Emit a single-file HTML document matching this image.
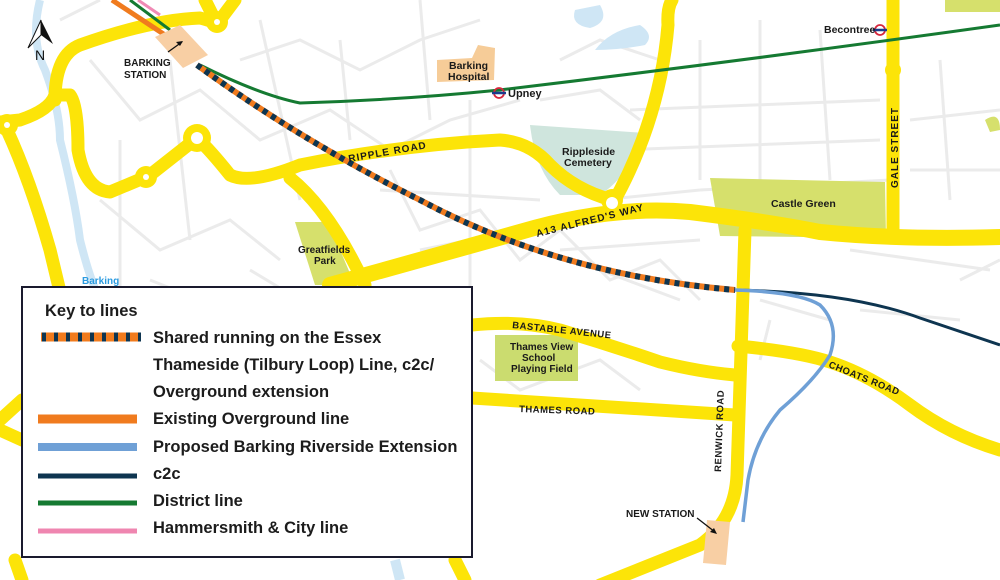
<!DOCTYPE html>
<html><head><meta charset="utf-8"><style>
html,body{margin:0;padding:0;background:#fff}
svg{display:block}
.t{font-family:"Liberation Sans",sans-serif;font-weight:bold;fill:#1a1a1a}
.k{font-family:"Liberation Sans",sans-serif;font-size:16.5px;fill:#1c1c1c;font-weight:bold}
</style></head><body>
<svg width="1000" height="580" viewBox="0 0 1000 580" xmlns="http://www.w3.org/2000/svg">
<rect width="1000" height="580" fill="#fff"/>
<g stroke="#ebebeb" stroke-width="3" fill="none">
<path d="M90 60 L140 120 L200 90 L260 140 L330 110 L390 150 L450 120 L520 100"/>
<path d="M100 200 L160 250 L230 220 L280 260 M240 60 L300 40 L360 70 L420 40 L480 20"/>
<path d="M120 140 L120 300 M170 60 L190 240 M260 20 L300 200 M340 40 L350 140 M420 0 L430 120 M470 100 L470 300"/>
<path d="M390 170 L420 230 L480 210 L520 260 L560 230 L610 280 L660 260 L700 300"/>
<path d="M560 60 L600 40 L660 60 M700 40 L700 180 M760 20 L760 200 M820 30 L830 180 M630 110 L880 100 M620 150 L880 140 M700 190 L890 180"/>
<path d="M940 60 L950 200 M910 120 L1000 110 M910 170 L1000 170 M960 280 L1000 260 M850 250 L990 270"/>
<path d="M380 190 L540 200 M420 250 L520 230 M560 250 L700 240 M600 270 L680 300 M760 300 L830 320 M770 320 L760 360"/>
<path d="M480 360 L520 390 L600 360 L640 390 M860 310 L960 320 M600 200 L700 190"/>
<path d="M250 270 L300 300 M60 20 L100 0 M150 280 L200 300"/>
<path d="M540 100 L600 90 L640 120"/>
</g>
<path d="M40 0 Q30 40 45 70 Q60 110 60 140 Q75 200 80 240 Q90 280 100 300" stroke="#cfe6f5" stroke-width="8" fill="none"/>
<path d="M395 560 L400 580" stroke="#cfe6f5" stroke-width="10"/>
<path d="M575 10 Q570 25 590 28 Q610 22 600 5 Z" fill="#cfe6f5"/>
<path d="M595 50 Q610 30 640 25 Q655 35 645 45 Q620 50 595 50Z" fill="#cfe6f5"/>
<path d="M530 125 L645 133 Q630 175 600 195 L560 195 Q535 170 530 125Z" fill="#cfe5dd"/>
<path d="M710 178 L885 182 L886 238 L720 236Z" fill="#d6e06c"/>
<path d="M295 222 L328 222 L355 285 L315 285Z" fill="#d6e06c"/>
<rect x="495" y="335" width="83" height="46" fill="#cbdc6f"/>
<path d="M945 0 L1000 0 L1000 12 L945 12Z" fill="#d6e06c"/>
<path d="M985 120 Q1000 110 1000 130 L990 132Z" fill="#d6e06c"/>
<path d="M437 60 L472 58 L478 45 L495 48 L494 80 L437 82Z" fill="#f6cc98"/>
<g stroke="#fce408" stroke-width="13" fill="none" stroke-linecap="round" stroke-linejoin="round">
<path d="M330 285 Q420 260 520 232 Q610 205 690 212 Q770 222 820 232 Q900 240 1000 237" stroke-width="16"/>
<path d="M150 175 L197 138 Q210 150 230 175 Q250 185 300 165 Q400 145 500 140 Q530 142 550 165 Q575 190 612 200"/>
<path d="M290 178 Q330 210 365 285"/>
<path d="M672 0 Q667 8 668 25 Q660 120 612 205"/>
<path d="M893 0 L893 238"/>
<path d="M745 230 L737 475 Q735 520 700 545 Q650 565 600 585"/>
<path d="M472 325 Q520 320 560 330 Q610 345 660 362 Q700 372 735 375"/>
<path d="M738 346 Q800 352 830 362 Q870 375 910 405 Q950 435 1000 450"/>
<path d="M472 398 L735 415"/>
<path d="M55 100 Q55 55 80 45 Q150 20 200 18 Q215 22 217 24 L235 0"/>
<path d="M217 24 L205 0"/>
<path d="M55 95 Q50 110 20 120 L0 122"/>
<path d="M55 95 L70 95 Q78 105 78 150 Q85 190 110 192 L146 177"/>
<path d="M7 130 Q30 180 50 250 L62 300"/>
<path d="M0 420 L22 400 M0 430 L22 440"/>
<path d="M15 560 L22 580 M455 560 L465 580"/>
</g>
<g fill="#fce408">
<circle cx="197" cy="138" r="14"/><circle cx="146" cy="177" r="11"/><circle cx="217" cy="22" r="11"/><circle cx="7" cy="125" r="11"/><circle cx="612" cy="200" r="11"/><circle cx="893" cy="70" r="8"/>
</g>
<g fill="#fff"><circle cx="197" cy="138" r="6"/><circle cx="146" cy="177" r="3"/><circle cx="217" cy="22" r="3"/><circle cx="7" cy="125" r="3"/><circle cx="612" cy="203" r="6"/></g>
<path d="M112 0 L165 35" stroke="#f07b1e" stroke-width="5"/>
<path d="M130 0 L170 30" stroke="#157a32" stroke-width="3"/>
<path d="M138 0 L160 15" stroke="#f08ab5" stroke-width="3"/>
<path d="M200 65 Q260 95 300 103 Q400 100 500 90 Q750 60 1000 25" stroke="#157a32" stroke-width="3" fill="none"/>
<path d="M735 290 Q850 292 920 318 L1000 345" stroke="#0e3550" stroke-width="3" fill="none"/>
<path d="M735 290 Q800 292 820 305 Q840 325 830 355 Q815 380 780 410 Q755 440 748 480 L743 522" stroke="#6fa0d6" stroke-width="3.5" fill="none"/>
<path d="M197 65 Q300 140 420 200 Q560 275 735 290" stroke="#f07b1e" stroke-width="6" fill="none"/>
<path d="M197 65 Q300 140 420 200 Q560 275 735 290" stroke="#0e3550" stroke-width="6" fill="none" stroke-dasharray="5 5"/>
<path d="M155 37 L180 25 L208 55 L183 68Z" fill="#f8cfa4"/>
<path d="M707 520 L730 522 L726 565 L703 563Z" fill="#f8cfa4"/>
<path d="M168 52 L182 42" stroke="#111" stroke-width="1.3"/><path d="M183 41 L176 42 L180 46Z" fill="#111"/>
<path d="M697 518 L715 532" stroke="#111" stroke-width="1.3"/><path d="M717 534 L710 532 L714 528Z" fill="#111"/>
<path d="M41 20 L28 48 L41 35Z" fill="#fff" stroke="#111" stroke-width="1"/><path d="M41 20 L53 44 L41 35Z" fill="#111"/>
<text x="35" y="60" font-family="Liberation Sans" font-size="14" fill="#111">N</text>
<g fill="none" stroke="#d7263d" stroke-width="1.8"><circle cx="499" cy="93" r="5"/><circle cx="880" cy="30" r="5"/></g>
<path d="M492 93 L506 93 M873 30 L887 30" stroke="#1b3c8c" stroke-width="2.5"/>
<text class="t" font-size="10" x="124" y="66">BARKING</text>
<text class="t" font-size="10" x="124" y="78">STATION</text>
<text class="t" font-size="10" x="626" y="517">NEW STATION</text>
<text class="t" font-size="10.5" x="449" y="69">Barking</text>
<text class="t" font-size="10.5" x="448" y="80">Hospital</text>
<text class="t" font-size="11" x="508" y="97">Upney</text>
<text class="t" font-size="10.5" x="824" y="33">Becontree</text>
<text class="t" font-size="10.5" x="562" y="155">Rippleside</text>
<text class="t" font-size="10.5" x="564" y="166">Cemetery</text>
<text class="t" font-size="10.5" x="771" y="207">Castle Green</text>
<text class="t" font-size="10" x="298" y="253">Greatfields</text>
<text class="t" font-size="10" x="314" y="264">Park</text>
<text class="t" font-size="10" x="510" y="350">Thames View</text>
<text class="t" font-size="10" x="522" y="361">School</text>
<text class="t" font-size="10" x="511" y="372">Playing Field</text>
<text font-family="Liberation Sans" font-weight="bold" font-size="10" fill="#2b9be0" x="82" y="284">Barking</text>
<text class="t" font-size="10" letter-spacing="1" transform="translate(349,162) rotate(-10)">RIPPLE ROAD</text>
<text class="t" font-size="10" letter-spacing="1" transform="translate(537,237) rotate(-14)">A13  ALFRED'S WAY</text>
<text class="t" font-size="10" letter-spacing="1" transform="translate(898,188) rotate(-90)">GALE STREET</text>
<text class="t" font-size="9.5" letter-spacing="0.5" transform="translate(512,328) rotate(6)">BASTABLE AVENUE</text>
<text class="t" font-size="9.5" letter-spacing="0.5" x="519" y="412" transform="rotate(2 519 412)">THAMES ROAD</text>
<text class="t" font-size="9.5" letter-spacing="0.5" transform="translate(721,472) rotate(-88)">RENWICK ROAD</text>
<text class="t" font-size="9.5" letter-spacing="0.5" transform="translate(828,367) rotate(22)">CHOATS ROAD</text>
<rect x="22" y="287" width="450" height="270" fill="#fff" stroke="#1a1a2e" stroke-width="2"/>
<text class="k" x="45" y="316">Key to lines</text>
<path d="M41 337 L141 337" stroke="#f07b1e" stroke-width="9"/>
<path d="M41 337 L141 337" stroke="#0e3550" stroke-width="9" stroke-dasharray="4 8" stroke-dashoffset="-1"/>
<path d="M38 419 L137 419" stroke="#f07b1e" stroke-width="9"/>
<path d="M38 447 L137 447" stroke="#6fa0d6" stroke-width="8"/>
<path d="M38 476 L137 476" stroke="#0e3550" stroke-width="5"/>
<path d="M38 503 L137 503" stroke="#157a32" stroke-width="5"/>
<path d="M38 531 L137 531" stroke="#ef86b0" stroke-width="5"/>
<text class="k" x="153" y="343">Shared running on the Essex</text>
<text class="k" x="153" y="370">Thameside (Tilbury Loop) Line, c2c/</text>
<text class="k" x="153" y="397">Overground extension</text>
<text class="k" x="153" y="424">Existing Overground line</text>
<text class="k" x="153" y="452">Proposed Barking Riverside Extension</text>
<text class="k" x="153" y="479">c2c</text>
<text class="k" x="153" y="506">District line</text>
<text class="k" x="153" y="533">Hammersmith &amp; City line</text>
</svg>
</body></html>
